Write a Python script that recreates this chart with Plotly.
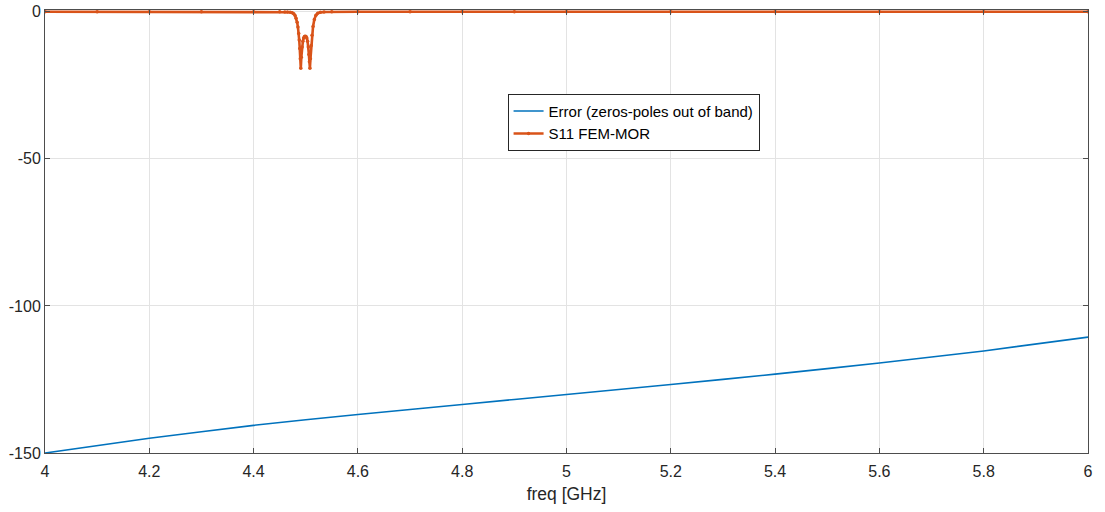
import plotly.graph_objects as go

# ---- data ----
err_freq = [4.0, 4.2, 4.4, 4.6, 4.8, 5.0, 5.2, 5.4, 5.6, 5.8, 6.0]
err_db = [-150.0, -145.0, -140.6, -136.9, -133.5, -130.1, -126.7, -123.2, -119.4, -115.3, -110.6]

s11_freq = [4.0, 4.1, 4.2, 4.3, 4.4, 4.45, 4.46, 4.465, 4.47, 4.474, 4.477, 4.4795,
            4.4815, 4.4835, 4.485, 4.4865, 4.4875, 4.4885, 4.4895, 4.4905, 4.4915,
            4.493, 4.4945, 4.496, 4.4975, 4.499, 4.5005, 4.502, 4.5035, 4.505,
            4.506, 4.507, 4.508, 4.509, 4.5105, 4.512, 4.514, 4.5165, 4.5195,
            4.523, 4.528, 4.535, 4.55, 4.6, 4.7, 4.8, 4.9, 5.0, 5.2, 5.4, 5.6, 5.8, 6.0]
s11_db = [0.0, 0.0, 0.0, 0.0, -0.01, -0.03, -0.05, -0.08, -0.15, -0.35, -0.7, -1.3,
          -2.2, -3.6, -5.2, -7.4, -9.6, -12.5, -16.0, -19.2, -15.5,
          -12.0, -10.0, -8.9, -8.4, -8.3, -8.4, -8.9, -10.0, -12.0,
          -14.5, -17.0, -19.2, -16.0, -11.5, -8.0, -5.0, -2.6, -1.2,
          -0.5, -0.2, -0.08, -0.03, -0.01, 0.0, 0.0, 0.0, 0.0, 0.0, 0.0, 0.0, 0.0, 0.0]

x_ticks = [4, 4.2, 4.4, 4.6, 4.8, 5, 5.2, 5.4, 5.6, 5.8, 6]
x_tick_text = ["4", "4.2", "4.4", "4.6", "4.8", "5", "5.2", "5.4", "5.6", "5.8", "6"]
y_ticks = [0, -50, -100, -150]
y_tick_text = ["0", "-50", "-100", "-150"]

BLUE = "#0072BD"
ORANGE = "#D95319"
AXIS = "#4d4d4d"
GRID = "#e3e3e3"
FONT = "Liberation Sans, Arial, Helvetica, sans-serif"

fig = go.Figure()
fig.add_trace(go.Scatter(
    x=err_freq, y=err_db, mode="lines",
    name="Error (zeros-poles out of band)",
    line=dict(color=BLUE, width=1.6, shape="spline", smoothing=0.6),
))
fig.add_trace(go.Scatter(
    x=s11_freq, y=s11_db, mode="lines+markers",
    name="S11 FEM-MOR",
    line=dict(color=ORANGE, width=2.6),
    marker=dict(color=ORANGE, size=3.5),
))

fig.update_layout(
    width=1105, height=512,
    margin=dict(l=45, r=17, t=10, b=59, pad=0),
    paper_bgcolor="white", plot_bgcolor="white",
    font=dict(family=FONT, size=16, color="#262626"),
    showlegend=True,
    legend=dict(
        x=0.4435, y=0.811, xanchor="left", yanchor="top",
        bgcolor="white", bordercolor="#262626", borderwidth=1,
        font=dict(family=FONT, size=15, color="#000000"),
        itemwidth=30, tracegroupgap=0,
    ),
)
fig.update_xaxes(
    range=[4, 6], tickvals=x_ticks, ticktext=x_tick_text,
    showgrid=True, gridcolor=GRID, gridwidth=1,
    showline=True, linecolor=AXIS, linewidth=1, mirror="ticks",
    ticks="inside", ticklen=5, tickcolor=AXIS, zeroline=False,
    tickfont=dict(size=16, color="#262626"), ticklabelstandoff=4,
    automargin=False,
    title=dict(text="freq [GHz]", font=dict(size=17.5, color="#262626"), standoff=8),
)
fig.update_yaxes(
    range=[-150, 0.6], tickvals=y_ticks, ticktext=y_tick_text,
    showgrid=True, gridcolor=GRID, gridwidth=1,
    showline=True, linecolor=AXIS, linewidth=1, mirror="ticks",
    ticks="inside", ticklen=5, tickcolor=AXIS, zeroline=False,
    tickfont=dict(size=16, color="#262626"),
    automargin=False,
)

fig.write_html("out.html", config={"displayModeBar": False},
               post_script="document.body.style.margin='0';")
